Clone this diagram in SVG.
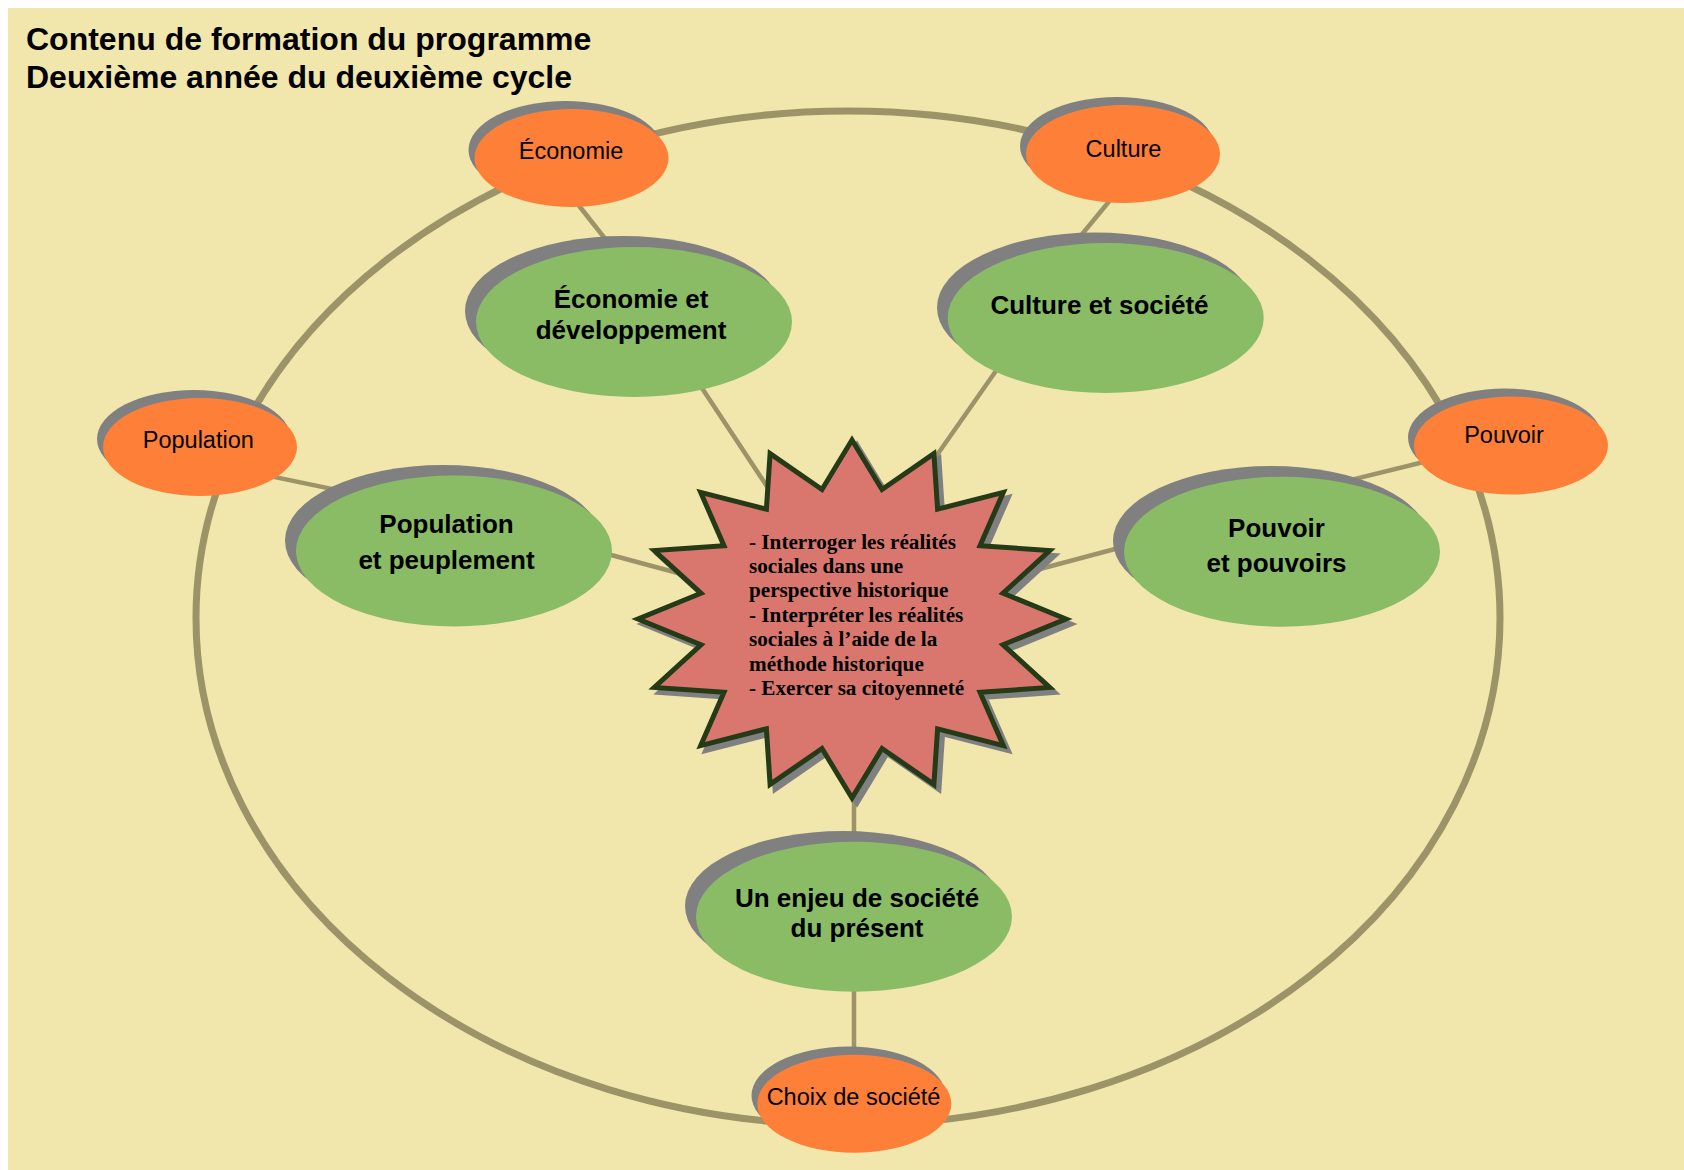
<svg xmlns="http://www.w3.org/2000/svg" width="1684" height="1170" viewBox="0 0 1684 1170">
  <style>
    .ring { fill: none; stroke: #9c9468; stroke-width: 7; }
    .conn { stroke: #9c9468; stroke-width: 4.5; fill: none; }
    .shadow { fill: #808080; }
    .orange { fill: #fe8038; }
    .green { fill: #8abc66; }
    .olabel { font-family: "Liberation Sans", Arial, sans-serif; font-size: 23.5px; fill: #000; text-anchor: middle; }
    .glabel { font-family: "Liberation Sans", Arial, sans-serif; font-size: 26px; font-weight: bold; fill: #000; text-anchor: middle; }
    .title { font-family: "Liberation Sans", Arial, sans-serif; font-size: 32px; font-weight: bold; fill: #000; }
    .startext { font-family: "Liberation Serif", "Times New Roman", serif; font-size: 21.2px; font-weight: bold; fill: #000; }
    .star { fill: #d9776f; stroke: #253a17; stroke-width: 5; stroke-linejoin: miter; stroke-miterlimit: 10; }
    .starshadow { fill: #808080; stroke: #808080; stroke-width: 5; stroke-linejoin: miter; stroke-miterlimit: 10; }
  </style>
  <defs>
    <polygon id="starshape" points="1066,619 1003.0,593.25 1049.7,550.5 980.0,545.7 1003.3,492.4 937.6,509.2 933.9,453.6 882.0,489.5 852,440 822.0,489.5 770.1,453.6 766.4,509.2 700.7,492.4 724.0,545.7 654.3,550.5 701.0,593.25 638,619 701.0,644.75 654.3,687.5 724.0,692.3 700.7,745.6 766.4,728.8 770.1,784.4 822.0,748.5 852,798 882.0,748.5 933.9,784.4 937.6,728.8 1003.3,745.6 980.0,692.3 1049.7,687.5 1003.0,644.75"/>
  </defs>

  <rect x="8" y="8" width="1676" height="1162" fill="#f1e6ab"/>

  <g id="title">
    <text class="title" x="26" y="50">Contenu de formation du programme</text>
    <text class="title" x="26" y="88">Deuxième année du deuxième cycle</text>
  </g>

  <g id="connectors">
    <ellipse class="ring" cx="848" cy="618" rx="652" ry="507"/>
    <line class="conn" x1="566.6" y1="190" x2="614" y2="250"/>
    <line class="conn" x1="690" y1="370" x2="776" y2="500"/>
    <line class="conn" x1="1118.5" y1="190" x2="1069" y2="250"/>
    <line class="conn" x1="1005" y1="358" x2="930" y2="465"/>
    <line class="conn" x1="250" y1="472" x2="340" y2="490.6"/>
    <line class="conn" x1="600" y1="552" x2="700" y2="579"/>
    <line class="conn" x1="1440" y1="458" x2="1340" y2="482.6"/>
    <line class="conn" x1="1130" y1="545" x2="1040" y2="569"/>
    <line class="conn" x1="854" y1="785" x2="854" y2="845"/>
    <line class="conn" x1="854" y1="985" x2="854" y2="1060"/>
  </g>

  <g id="node-economie">
    <ellipse class="shadow" cx="565.5" cy="150" rx="97" ry="49"/>
    <ellipse class="orange" cx="571.5" cy="158" rx="97" ry="49"/>
    <text class="olabel" x="571" y="159">Économie</text>
  </g>
  <g id="node-culture">
    <ellipse class="shadow" cx="1117" cy="146" rx="97" ry="49"/>
    <ellipse class="orange" cx="1123" cy="154" rx="97" ry="49"/>
    <text class="olabel" x="1123.5" y="156.7">Culture</text>
  </g>
  <g id="node-population">
    <ellipse class="shadow" cx="194" cy="439" rx="97" ry="49"/>
    <ellipse class="orange" cx="200" cy="447" rx="97" ry="49"/>
    <text class="olabel" x="198.3" y="448.3">Population</text>
  </g>
  <g id="node-pouvoir">
    <ellipse class="shadow" cx="1505" cy="437.5" rx="97" ry="49"/>
    <ellipse class="orange" cx="1511" cy="445.5" rx="97" ry="49"/>
    <text class="olabel" x="1504" y="442.7">Pouvoir</text>
  </g>
  <g id="node-choix">
    <ellipse class="shadow" cx="848.5" cy="1095.5" rx="97" ry="49"/>
    <ellipse class="orange" cx="854.3" cy="1103.7" rx="97" ry="49"/>
    <text class="olabel" x="853.5" y="1105">Choix de société</text>
  </g>

  <g id="node-economie-developpement">
    <ellipse class="shadow" cx="623" cy="311" rx="158" ry="75"/>
    <ellipse class="green" cx="634" cy="322" rx="158" ry="75"/>
    <text class="glabel" x="631" y="308">Économie et</text>
    <text class="glabel" x="631" y="339">développement</text>
  </g>
  <g id="node-culture-societe">
    <ellipse class="shadow" cx="1095" cy="307.5" rx="158" ry="75"/>
    <ellipse class="green" cx="1105.7" cy="318" rx="158" ry="75"/>
    <text class="glabel" x="1099.5" y="314">Culture et société</text>
  </g>
  <g id="node-population-peuplement">
    <ellipse class="shadow" cx="443" cy="540.5" rx="158" ry="75.5"/>
    <ellipse class="green" cx="454" cy="551" rx="158" ry="75.5"/>
    <text class="glabel" x="446.5" y="533.3">Population</text>
    <text class="glabel" x="446.5" y="569.3">et peuplement</text>
  </g>
  <g id="node-pouvoir-pouvoirs">
    <ellipse class="shadow" cx="1271" cy="541" rx="158" ry="75"/>
    <ellipse class="green" cx="1282" cy="551.7" rx="158" ry="75"/>
    <text class="glabel" x="1276.5" y="536.7">Pouvoir</text>
    <text class="glabel" x="1276.5" y="572">et pouvoirs</text>
  </g>
  <g id="node-enjeu">
    <ellipse class="shadow" cx="843" cy="906" rx="158" ry="75"/>
    <ellipse class="green" cx="854" cy="916.7" rx="158" ry="75"/>
    <text class="glabel" x="857" y="906.7">Un enjeu de société</text>
    <text class="glabel" x="857" y="936.7">du présent</text>
  </g>

  <g id="node-competences">
    <use href="#starshape" class="starshadow" transform="translate(5,5)"/>
    <use href="#starshape" class="star"/>
    <text class="startext">
      <tspan x="749" y="548.5">- Interroger les réalités</tspan>
      <tspan x="749" dy="24.4">sociales dans une</tspan>
      <tspan x="749" dy="24.4">perspective historique</tspan>
      <tspan x="749" dy="24.4">- Interpréter les réalités</tspan>
      <tspan x="749" dy="24.4">sociales à l’aide de la</tspan>
      <tspan x="749" dy="24.4">méthode historique</tspan>
      <tspan x="749" dy="24.4">- Exercer sa citoyenneté</tspan>
    </text>
  </g>
</svg>
